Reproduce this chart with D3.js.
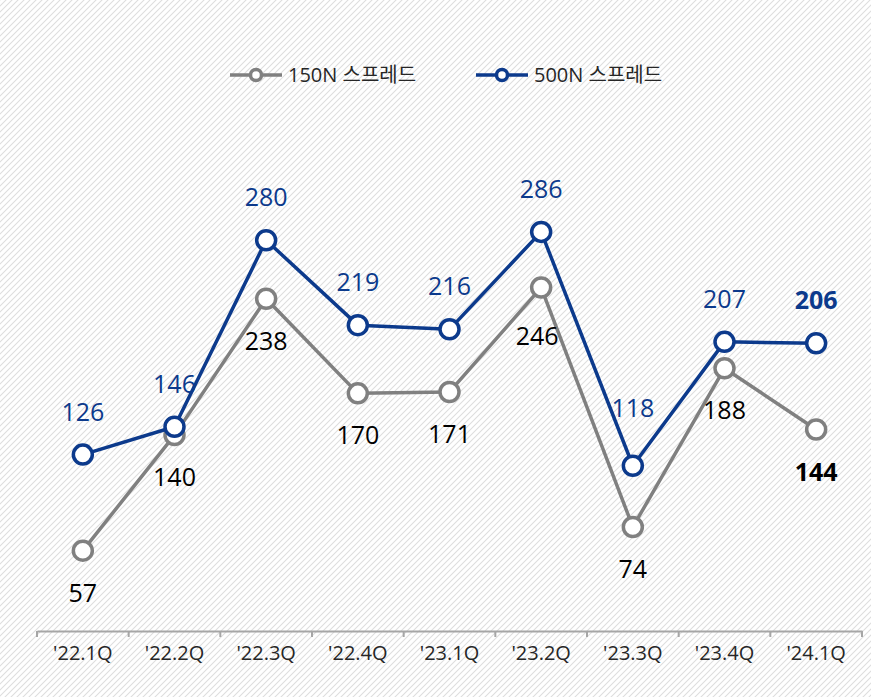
<!DOCTYPE html>
<html>
<head>
<meta charset="utf-8">
<script src="https://cdn.jsdelivr.net/npm/d3@7"></script>
<style>
  html, body { margin: 0; padding: 0; background: #fff; }
  svg { display: block; }
</style>
</head>
<body>
<svg id="chart" width="871" height="697"></svg>
<script>
// Quarterly spread data
const quarters = ["'22.1Q", "'22.2Q", "'22.3Q", "'22.4Q", "'23.1Q", "'23.2Q", "'23.3Q", "'23.4Q", "'24.1Q"];
const spread150N = [57, 140, 238, 170, 171, 246, 74, 188, 144];
const spread500N = [126, 146, 280, 219, 216, 286, 118, 207, 206];
const seriesNames = ["150N 스프레드", "500N 스프레드"];

const W = 871, H = 697;
const FONT = "'Open Sans', 'Noto Sans CJK KR', sans-serif";
const GRAY = "#808080";
const BLUE = "#0c3a8c";
const TEXT = "#262626";

const svg = d3.select("#chart");

// Diagonal hatch background
const defs = svg.append("defs");
const pat = defs.append("pattern")
  .attr("id", "hatch")
  .attr("patternUnits", "userSpaceOnUse")
  .attr("width", 6).attr("height", 6);
pat.append("path")
  .attr("d", "M-1,1 l2,-2 M0,6 l6,-6 M5,7 l2,-2")
  .attr("stroke", "#dedede")
  .attr("stroke-width", 1.1);
svg.append("rect").attr("width", W).attr("height", H).attr("fill", "#fff");
svg.append("rect").attr("width", W).attr("height", H).attr("fill", "url(#hatch)");

// Scales
const x = d3.scaleBand().domain(quarters).range([37, 862]).padding(0);
const y = d3.scaleLinear().domain([0, 300]).range([630, 212.4]);
const cx = q => x(q) + x.bandwidth() / 2;

// Axis
const axisY = 631;
const axis = svg.append("g")
  .attr("transform", `translate(0,${axisY})`)
  .call(d3.axisBottom(x).tickSize(0).tickPadding(15));
axis.select(".domain").attr("stroke", "#a6a6a6").attr("stroke-width", 2);
axis.selectAll(".tick text")
  .attr("font-family", FONT)
  .attr("font-size", 20)
  .attr("fill", TEXT);

// Category boundary ticks
const bounds = quarters.map(q => x(q)).concat([x.range()[1]]);
svg.append("g").selectAll("line")
  .data(bounds)
  .join("line")
  .attr("x1", d => d).attr("x2", d => d)
  .attr("y1", axisY).attr("y2", axisY + 6)
  .attr("stroke", "#a6a6a6").attr("stroke-width", 2);

// Series
const series = [
  { name: seriesNames[0], values: spread150N, color: GRAY, labelColor: "#000", above: false },
  { name: seriesNames[1], values: spread500N, color: BLUE, labelColor: "#0c3a8c", above: true }
];

const line = d3.line().x(d => cx(d.q)).y(d => y(d.v));

series.forEach(s => {
  const pts = quarters.map((q, i) => ({ q, v: s.values[i], i }));
  const g = svg.append("g");
  g.append("path")
    .attr("d", line(pts))
    .attr("fill", "none")
    .attr("stroke", s.color)
    .attr("stroke-width", 3.5)
    .attr("stroke-linejoin", "round");
  g.selectAll("circle")
    .data(pts)
    .join("circle")
    .attr("cx", d => cx(d.q))
    .attr("cy", d => y(d.v))
    .attr("r", 9.5)
    .attr("fill", "#fff")
    .attr("stroke", s.color)
    .attr("stroke-width", 3.5);
  s.pts = pts;
});

// Value labels (drawn after both lines so they sit on top)
const nudge = { "'23.3Q": -15, "'23.2Q": 6 };
series.forEach(s => {
  const last = s.pts.length - 1;
  svg.append("g").selectAll("text")
    .data(s.pts)
    .join("text")
    .attr("x", d => cx(d.q) - (!s.above && d.q === "'23.2Q" ? 4 : 0))
    .attr("y", d => s.above
      ? y(d.v) - 34 + (d.q === "'23.3Q" ? nudge[d.q] : 0)
      : y(d.v) + 51 + (d.q === "'23.2Q" ? nudge[d.q] : 0))
    .attr("text-anchor", "middle")
    .attr("font-family", FONT)
    .attr("font-size", 25)
    .attr("font-weight", d => d.i === last ? 700 : 400)
    .attr("fill", s.labelColor)
    .text(d => d.v);
});

// Legend
const legend = svg.append("g").attr("transform", "translate(0,75)");
const legendX = [230, 476];
series.forEach((s, i) => {
  const lg = legend.append("g").attr("transform", `translate(${legendX[i]},0)`);
  lg.append("line").attr("x1", 0).attr("x2", 52).attr("y1", 0).attr("y2", 0)
    .attr("stroke", s.color).attr("stroke-width", 3.5);
  lg.append("circle").attr("cx", 26).attr("cy", 0).attr("r", 5.5)
    .attr("fill", "#fff").attr("stroke", s.color).attr("stroke-width", 3.5);
  lg.append("text").attr("x", 58).attr("y", 0).attr("dy", "0.35em")
    .attr("font-family", FONT).attr("font-size", 20)
    .attr("fill", TEXT)
    .text(s.name);
});
</script>
</body>
</html>
